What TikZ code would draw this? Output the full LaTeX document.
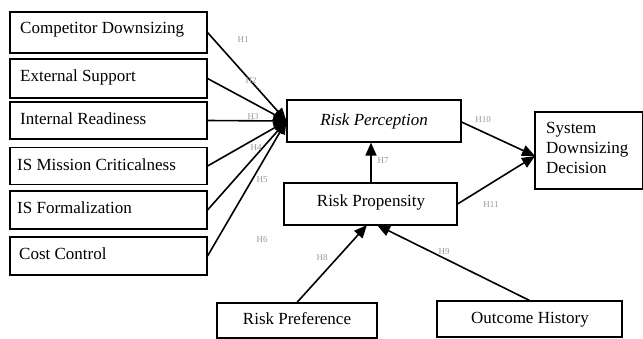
\documentclass[tikz,border=0pt]{standalone}
\usepackage{fontspec}
\setmainfont{Liberation Serif}
\usetikzlibrary{arrows.meta,calc}
\begin{document}
\begin{tikzpicture}[x=1pt,y=-1pt,
  box/.style={draw,line width=1.1pt,rectangle,inner sep=0pt,font=\fontsize{17}{20}\selectfont},
  txt/.style={font=\fontsize{17}{20}\selectfont,inner sep=0pt},
  conn/.style={line width=1.6pt,-{Triangle[length=13pt,width=11pt]}},
  hl/.style={text=black!40,font=\fontsize{9}{10}\selectfont,inner sep=0pt}]
\useasboundingbox (0,0) rectangle (643,338);
\begin{scope}
\clip (0,0) rectangle (643,338);
% left boxes
\node[box,minimum width=197pt,minimum height=41pt] (cd) at (108.5,32.5) {};
\node[txt,anchor=base west] (cdt) at (20,33) {Competitor Downsizing};
\node[box,minimum width=197pt,minimum height=39pt] (es) at (108.5,78.5) {};
\node[txt,anchor=base west] (est) at (20,81) {External Support};
\node[box,minimum width=197pt,minimum height=37pt] (ir) at (108.5,120.5) {};
\node[txt,anchor=base west] (irt) at (20,124) {Internal Readiness};
\node[box,minimum width=197pt,minimum height=37pt] (im) at (108.5,166) {};
\node[txt,anchor=base west] (imt) at (17,170) {IS Mission Criticalness};
\node[box,minimum width=197pt,minimum height=38pt] (isf) at (108.5,210) {};
\node[txt,anchor=base west] (isft) at (17,213) {IS Formalization};
\node[box,minimum width=197pt,minimum height=38pt] (cc) at (108.5,256) {};
\node[txt,anchor=base west] (cct) at (19,259) {Cost Control};
% middle
\node[box,minimum width=174pt,minimum height=42pt] (rperc) at (374,121) {};
\node[txt,anchor=base] (rpercT) at (374,125) {\itshape Risk Perception};
\node[box,minimum width=173pt,minimum height=42pt] (rprop) at (370.5,204) {};
\node[txt,anchor=base] (rpropT) at (371,206) {Risk Propensity};
\node[box,minimum width=108pt,minimum height=77pt] (sdd) at (589,150.5) {};
\node[txt,anchor=base west] (s1) at (546,133) {System};
\node[txt,anchor=base west] (s2) at (546,153) {Downsizing};
\node[txt,anchor=base west] (s3) at (546,173) {Decision};
\node[box,minimum width=160pt,minimum height=35pt] (rpref) at (297,320.5) {};
\node[txt,anchor=base] (rprefT) at (297,324) {Risk Preference};
\node[box,minimum width=185pt,minimum height=36pt] (oh) at (529.5,319) {};
\node[txt,anchor=base] (ohT) at (530,323) {Outcome History};
\coordinate (sddin) at (535,156);
\coordinate (rpin8) at (367,225);
\coordinate (rpin9) at (377,225);
% connectors
\draw[conn] (cd.east) -- (rperc.west);
\draw[conn] (es.east) -- (rperc.west);
\draw[conn] (ir.east) -- (rperc.west);
\draw[conn] (im.east) -- (rperc.west);
\draw[conn] (isf.east) -- (rperc.west);
\draw[conn] (cc.east) -- (rperc.west);
\draw[conn] (rprop.north -| rperc.south) ++(-3,0) coordinate (p7) -- (p7 |- rperc.south);
\draw[conn] (rperc.east) ++(0,1) -- (sddin);
\draw[conn] (rprop.east) -- (sddin);
\draw[conn] (rpref.north) -- (rpin8);
\draw[conn] (oh.north) -- (rpin9);
% labels
\node[hl] (h1) at (243,40) {H1};
\node[hl] (h2) at (251,81) {H2};
\node[hl] (h3) at (253,117) {H3};
\node[hl] (h4) at (256,148) {H4};
\node[hl] (h5) at (262,180) {H5};
\node[hl] (h6) at (262,240) {H6};
\node[hl] (h7) at (383,161) {H7};
\node[hl] (h8) at (322,258) {H8};
\node[hl] (h9) at (444,252) {H9};
\node[hl] (h10) at (483,120) {H10};
\node[hl] (h11) at (491,205) {H11};
\end{scope}
\end{tikzpicture}
\end{document}
